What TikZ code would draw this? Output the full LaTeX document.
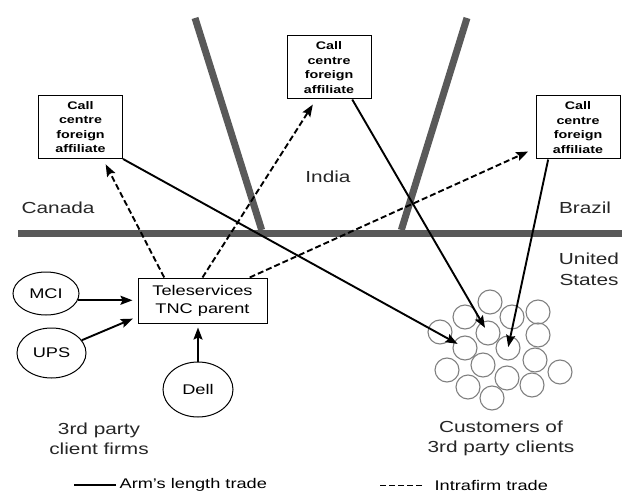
\documentclass[tikz,border=0pt]{standalone}
\usepackage{fontspec}
\setmainfont[FakeStretch = 1.3]{Liberation Sans}
\usepackage{tikz}
\usetikzlibrary{arrows, arrows.meta, shapes.geometric}
\definecolor{bordergray}{gray}{0.35}

\begin{document}
\begin{tikzpicture}[x = 1pt, y = -1pt, >={Stealth[length = 12pt, width = 9pt, inset = 2pt]}, shorten >= 1pt, semithick]
  \tikzstyle{affiliate} = [draw, rectangle, line width = 1pt, minimum width = 84pt, minimum height = 63pt, inner sep = 0pt, align = center, font = \fontsize{11}{14.4}\selectfont\bfseries]
  \tikzstyle{parent}    = [draw, rectangle, line width = 1pt, minimum width = 129pt, minimum height = 45pt, align = center, font = \fontsize{14}{18}\selectfont]
  \tikzstyle{client}    = [draw, ellipse, line width = 1pt, inner sep = 0pt, font = \fontsize{14}{17}\selectfont]
  \tikzstyle{customer}  = [draw = gray, circle, line width = 1.1pt, minimum size = 24pt, inner sep = 0pt]
  \tikzstyle{country}   = [align = center, text = black!85, font = \fontsize{16}{20}\selectfont]
  \tikzstyle{legend}    = [anchor = west, font = \fontsize{14}{17}\selectfont]
  \tikzstyle{border}    = [line width = 7pt, color = bordergray]
  \tikzstyle{arm}       = [->, line width = 1.9pt]
  \tikzstyle{intra}     = [->, line width = 1.9pt, dash pattern = on 6pt off 3pt]

  \useasboundingbox (0,0) rectangle (623,494);

  % borders
  \draw[border] (18,234) -- (623,234);
  \draw[border] (195,18) -- (262,231);
  \draw[border] (467,18) -- (401,231);

  \node[country, anchor = west] (canada) at (18,208)  {Canada};
  \node[country] (india)  at (328,177) {India};
  \node[country] (brazil) at (585,208) {Brazil};
  \node[country, font = \fontsize{16}{21}\selectfont] (us) at (589,269) {United\\States};

  \node[affiliate] (canaff) at (80.5,127)  {Call\\centre\\foreign\\affiliate};
  \node[affiliate] (indaff) at (329,67.5)  {Call\\centre\\foreign\\affiliate};
  \node[affiliate] (braaff) at (578,127.5) {Call\\centre\\foreign\\affiliate};

  \node[parent] (tnc) at (202.5,300.5) {Teleservices\\TNC parent};
  \node[client, minimum width = 66pt, minimum height = 43pt] (mci)  at (46,293.5)  {MCI};
  \node[client, minimum width = 69pt, minimum height = 50pt] (ups)  at (51.5,353)  {UPS};
  \node[client, minimum width = 70pt, minimum height = 55pt] (dell) at (198,389.5) {Dell};

  \foreach \cx/\cy [count = \i] in {490/302, 465/317, 512/317, 538/312, 440/332, 488/333,
      538/335, 465/348, 508/348, 447/370, 483/365, 535/360, 560/372, 507/378, 468/387,
      532/385, 492/398}
    \node[customer] (c\i) at (\cx,\cy) {};

  \node[country] (firms)     at (99,439)  {3rd party\\client firms};
  \node[country] (customers) at (501,438) {Customers of\\3rd party clients};

  % client firms to parent
  \draw[arm, shorten >= 5pt] (mci.-12) -- (mci.-12 -| tnc.west);
  \draw[arm, shorten >= 5pt] (ups) -- (tnc.-166);
  \draw[arm, shorten >= 4pt] (dell) -- (dell |- tnc.south);

  % intrafirm
  \draw[intra, shorten >= 6pt] (tnc.149) -- (canaff.-55);
  \draw[intra, shorten >= 6pt] (tnc.north) -- (indaff.-112);
  \draw[intra, shorten >= 8pt] (tnc.26) -- (braaff.-154);

  % arm's length
  \draw[arm, shorten >= 8.5pt] (canaff.south east) -- (c8.center);
  \draw[arm, shorten >= 6pt] (indaff.-54) -- (c6.center);
  \draw[arm] (braaff.-133) -- (c9.center);

  \node[legend] (armlabel)   at (116,485) {Arm's length trade};
  \node[legend] (intralabel) at (431,485) {Intrafirm trade};
  \draw[line width = 1.2pt] (armlabel.west) -- ++(-43pt,0);
  \draw[line width = 1pt, dash pattern = on 6pt off 3pt] (intralabel.west) ++(-9pt,0) -- ++(-45pt,0);

\end{tikzpicture}
\end{document}
